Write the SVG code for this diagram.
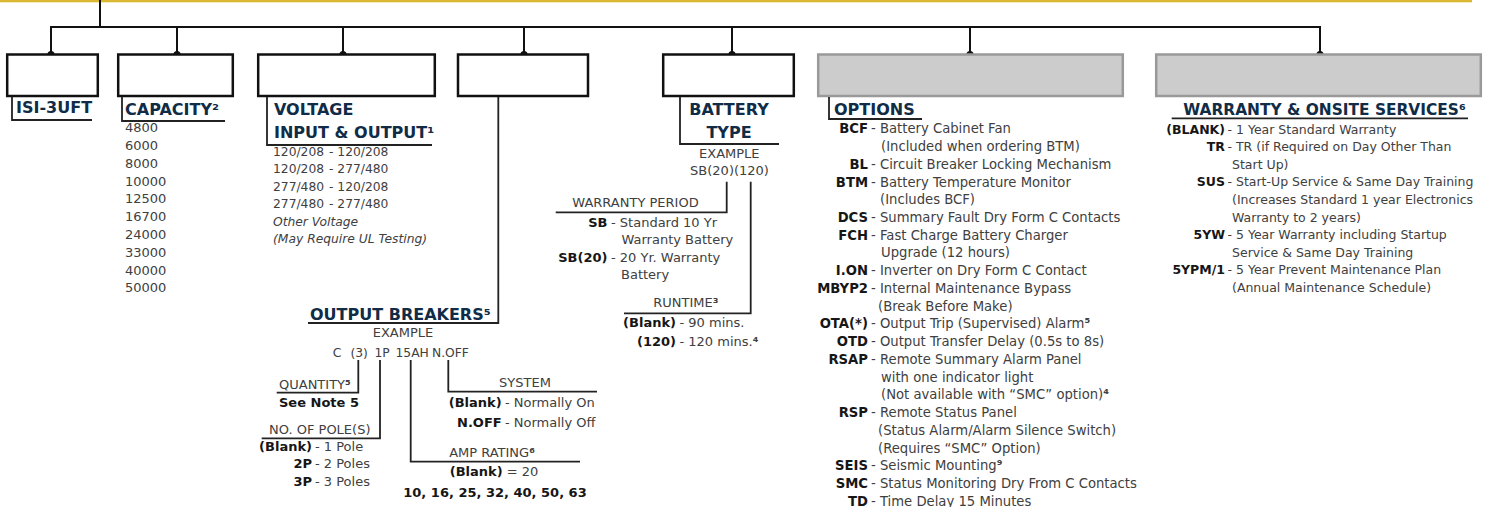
<svg xmlns="http://www.w3.org/2000/svg" width="1490" height="507" viewBox="0 0 1490 507">
<style>
text{font-family:"DejaVu Sans","Liberation Sans",sans-serif;}
.hd{font-weight:bold;font-size:16px;fill:#102c47}
.t{font-size:13px;fill:#404040}
.v{font-size:12.3px;fill:#404040}
.w{font-size:12.5px;fill:#404040}
.o{font-size:13.2px;fill:#404040}
.b{font-weight:bold;fill:#161616}
.sup{font-weight:bold}
.i{font-style:italic}
.box{fill:#fff;stroke:#111;stroke-width:2.5}
.gbox{fill:#cccccc;stroke:#999;stroke-width:2.5}
.ln{fill:none;stroke:#111;stroke-width:2}
.br{fill:none;stroke:#222;stroke-width:1.8}
.dot{fill:#111}
</style>
<rect x="0" y="0" width="1472" height="2.3" fill="#dbb831"/>

<g id="connectors">
  <path class="ln" d="M100 0V27M51 54V27H1320V54M177 27V54M343 27V54M524 27V54M732 27V54M970 27V54"/>
  <circle class="dot" cx="51" cy="54.5" r="3.6"/>
  <circle class="dot" cx="177" cy="54.5" r="3.6"/>
  <circle class="dot" cx="343" cy="54.5" r="3.6"/>
  <circle class="dot" cx="524" cy="54.5" r="3.6"/>
  <circle class="dot" cx="732" cy="54.5" r="3.6"/>
  <circle class="dot" cx="970" cy="54.5" r="3.6"/>
  <circle class="dot" cx="1320" cy="54.5" r="3.6"/>
  <path class="br" d="M498.3 97V323H308"/>
  <path class="br" d="M358.3 360V392.7H276.7M380 360V438.3H261.7M410.7 360V461.7H580M448.3 360V391.7H597"/>
  <path class="br" d="M726.7 181.7V212.3H555.7M750.7 181.7V313.3H624"/>
</g>

<g id="node-model">
  <rect class="box" x="7.2" y="54.5" width="90.6" height="41.5"/>
  <path class="br" d="M12 97V120H92"/>
  <text class="hd" x="16" y="113">ISI-3UFT</text>
</g>

<g id="node-capacity">
  <rect class="box" x="118.2" y="54.5" width="114.6" height="41.5"/>
  <path class="br" d="M122 97V121H225"/>
  <text class="hd" x="125" y="115">CAPACITY²</text>
  <text class="t" x="125" y="132.3">4800</text>
  <text class="t" x="125" y="150.1">6000</text>
  <text class="t" x="125" y="167.9">8000</text>
  <text class="t" x="125" y="185.6">10000</text>
  <text class="t" x="125" y="203.4">12500</text>
  <text class="t" x="125" y="221.2">16700</text>
  <text class="t" x="125" y="239">24000</text>
  <text class="t" x="125" y="256.8">33000</text>
  <text class="t" x="125" y="274.5">40000</text>
  <text class="t" x="125" y="292.3">50000</text>
</g>

<g id="node-voltage">
  <rect class="box" x="258.2" y="54.5" width="176.6" height="41.5"/>
  <path class="br" d="M267 97V145H432"/>
  <text class="hd" x="274" y="115">VOLTAGE</text>
  <text class="hd" x="274" y="138">INPUT &amp; OUTPUT¹</text>
  <text class="v" x="273" y="155.5">120/208<tspan x="329">- 120/208</tspan></text>
  <text class="v" x="273" y="173">120/208<tspan x="329">- 277/480</tspan></text>
  <text class="v" x="273" y="190.5">277/480<tspan x="329">- 120/208</tspan></text>
  <text class="v" x="273" y="208">277/480<tspan x="329">- 277/480</tspan></text>
  <text class="v i" x="273" y="225.5">Other Voltage</text>
  <text class="v i" x="273" y="243">(May Require UL Testing)</text>
</g>

<g id="node-output-breakers">
  <rect class="box" x="458" y="54.5" width="130" height="41.5"/>
  <text class="hd" x="310" y="320">OUTPUT BREAKERS⁵</text>
  <text class="t" x="403" y="337" text-anchor="middle">EXAMPLE</text>
  <text class="v" y="357"><tspan x="332.7">C</tspan><tspan x="350.5">(3)</tspan><tspan x="374.5">1P</tspan><tspan x="395.5">15AH</tspan><tspan x="432">N.OFF</tspan></text>
  <text class="t" x="279" y="388.5">QUANTITY<tspan class="sup">⁵</tspan></text>
  <text class="t b" x="279" y="407">See Note 5</text>
  <text class="t" x="269" y="433.5">NO. OF POLE(S)</text>
  <text class="t b" x="312" y="450.7" text-anchor="end">(Blank)</text>
  <text class="t" x="315" y="450.7">- 1 Pole</text>
  <text class="t b" x="312" y="468.2" text-anchor="end">2P</text>
  <text class="t" x="315" y="468.2">- 2 Poles</text>
  <text class="t b" x="312" y="485.7" text-anchor="end">3P</text>
  <text class="t" x="315" y="485.7">- 3 Poles</text>
  <text class="t" x="492" y="456.7" text-anchor="middle">AMP RATING<tspan class="sup">⁶</tspan></text>
  <text class="t" x="494" y="476" text-anchor="middle"><tspan class="b">(Blank)</tspan> = 20</text>
  <text class="t b" x="495" y="496.7" text-anchor="middle">10, 16, 25, 32, 40, 50, 63</text>
  <text class="t" x="525" y="387.3" text-anchor="middle">SYSTEM</text>
  <text class="t b" x="501.7" y="406.7" text-anchor="end">(Blank)</text>
  <text class="t" x="505" y="406.7">- Normally On</text>
  <text class="t b" x="501.7" y="426.7" text-anchor="end">N.OFF</text>
  <text class="t" x="505" y="426.7">- Normally Off</text>
</g>

<g id="node-battery">
  <rect class="box" x="663.2" y="54.5" width="130.6" height="41.5"/>
  <path class="br" d="M680 97V144H779"/>
  <text class="hd" x="729" y="115" text-anchor="middle">BATTERY</text>
  <text class="hd" x="729" y="137.5" text-anchor="middle">TYPE</text>
  <text class="t" x="729.3" y="158.3" text-anchor="middle">EXAMPLE</text>
  <text class="t" x="729.5" y="175" text-anchor="middle">SB(20)(120)</text>
  <text class="t" x="572.3" y="206.7">WARRANTY PERIOD</text>
  <text class="t b" x="607.5" y="226.7" text-anchor="end">SB</text>
  <text class="t" x="611" y="226.7">- Standard 10 Yr</text>
  <text class="t" x="621.5" y="243.5">Warranty Battery</text>
  <text class="t b" x="607.5" y="261.7" text-anchor="end">SB(20)</text>
  <text class="t" x="611" y="261.7">- 20 Yr. Warranty</text>
  <text class="t" x="621" y="279.3">Battery</text>
  <text class="t" x="653.3" y="307.3">RUNTIME<tspan class="sup">³</tspan></text>
  <text class="t b" x="676" y="327.3" text-anchor="end">(Blank)</text>
  <text class="t" x="679.5" y="327.3">- 90 mins.</text>
  <text class="t b" x="676" y="346" text-anchor="end">(120)</text>
  <text class="t" x="679.5" y="346">- 120 mins.<tspan class="sup">⁴</tspan></text>
</g>

<g id="node-options">
  <rect class="gbox" x="818.2" y="54.5" width="304.6" height="41.5"/>
  <path class="br" d="M829 97V119H922"/>
  <text class="hd" x="834" y="115">OPTIONS</text>
  <g>
    <text class="o b" x="868" y="133.3" text-anchor="end">BCF</text>
    <text class="o" x="871" y="133.3">- Battery Cabinet Fan</text>
    <text class="o" x="881" y="151">(Included when ordering BTM)</text>
    <text class="o b" x="868" y="168.8" text-anchor="end">BL</text>
    <text class="o" x="871" y="168.8">- Circuit Breaker Locking Mechanism</text>
    <text class="o b" x="868" y="186.5" text-anchor="end">BTM</text>
    <text class="o" x="871" y="186.5">- Battery Temperature Monitor</text>
    <text class="o" x="880" y="204.2">(Includes BCF)</text>
    <text class="o b" x="868" y="222" text-anchor="end">DCS</text>
    <text class="o" x="871" y="222">- Summary Fault Dry Form C Contacts</text>
    <text class="o b" x="868" y="239.7" text-anchor="end">FCH</text>
    <text class="o" x="871" y="239.7">- Fast Charge Battery Charger</text>
    <text class="o" x="881" y="257.4">Upgrade (12 hours)</text>
    <text class="o b" x="868" y="275.2" text-anchor="end">I.ON</text>
    <text class="o" x="871" y="275.2">- Inverter on Dry Form C Contact</text>
    <text class="o b" x="868" y="292.9" text-anchor="end">MBYP2</text>
    <text class="o" x="871" y="292.9">- Internal Maintenance Bypass</text>
    <text class="o" x="878" y="310.6">(Break Before Make)</text>
    <text class="o b" x="868" y="328.3" text-anchor="end">OTA(*)</text>
    <text class="o" x="871" y="328.3">- Output Trip (Supervised) Alarm<tspan class="sup">⁵</tspan></text>
    <text class="o b" x="868" y="346.1" text-anchor="end">OTD</text>
    <text class="o" x="871" y="346.1">- Output Transfer Delay (0.5s to 8s)</text>
    <text class="o b" x="868" y="363.8" text-anchor="end">RSAP</text>
    <text class="o" x="871" y="363.8">- Remote Summary Alarm Panel</text>
    <text class="o" x="881" y="381.5">with one indicator light</text>
    <text class="o" x="881" y="399.3">(Not available with “SMC” option)<tspan class="sup">⁴</tspan></text>
    <text class="o b" x="868" y="417" text-anchor="end">RSP</text>
    <text class="o" x="871" y="417">- Remote Status Panel</text>
    <text class="o" x="878" y="434.7">(Status Alarm/Alarm Silence Switch)</text>
    <text class="o" x="878" y="452.5">(Requires “SMC” Option)</text>
    <text class="o b" x="868" y="470.2" text-anchor="end">SEIS</text>
    <text class="o" x="871" y="470.2">- Seismic Mounting<tspan class="sup">⁹</tspan></text>
    <text class="o b" x="868" y="487.9" text-anchor="end">SMC</text>
    <text class="o" x="871" y="487.9">- Status Monitoring Dry From C Contacts</text>
    <text class="o b" x="868" y="505.6" text-anchor="end">TD</text>
    <text class="o" x="871" y="505.6">- Time Delay 15 Minutes</text>
  </g>
</g>

<g id="node-warranty">
  <rect class="gbox" x="1156.2" y="54.5" width="324.6" height="41.5"/>
  <path class="br" d="M1171.7 118.3H1468"/>
  <text class="hd" x="1183.3" y="115" style="font-size:15.4px">WARRANTY &amp; ONSITE SERVICES⁶</text>
  <text class="w b" x="1225" y="133.6" text-anchor="end">(BLANK)</text>
  <text class="w" x="1227.5" y="133.6">- 1 Year Standard Warranty</text>
  <text class="w b" x="1225" y="151.2" text-anchor="end">TR</text>
  <text class="w" x="1227.5" y="151.2">- TR (if Required on Day Other Than</text>
  <text class="w" x="1232" y="168.8">Start Up)</text>
  <text class="w b" x="1225" y="186.4" text-anchor="end">SUS</text>
  <text class="w" x="1227.5" y="186.4">- Start-Up Service &amp; Same Day Training</text>
  <text class="w" x="1232" y="204">(Increases Standard 1 year Electronics</text>
  <text class="w" x="1232" y="221.6">Warranty to 2 years)</text>
  <text class="w b" x="1225" y="239.2" text-anchor="end">5YW</text>
  <text class="w" x="1227.5" y="239.2">- 5 Year Warranty including Startup</text>
  <text class="w" x="1232" y="256.8">Service &amp; Same Day Training</text>
  <text class="w b" x="1225" y="274.4" text-anchor="end">5YPM/1</text>
  <text class="w" x="1227.5" y="274.4">- 5 Year Prevent Maintenance Plan</text>
  <text class="w" x="1232" y="292">(Annual Maintenance Schedule)</text>
</g>
</svg>
